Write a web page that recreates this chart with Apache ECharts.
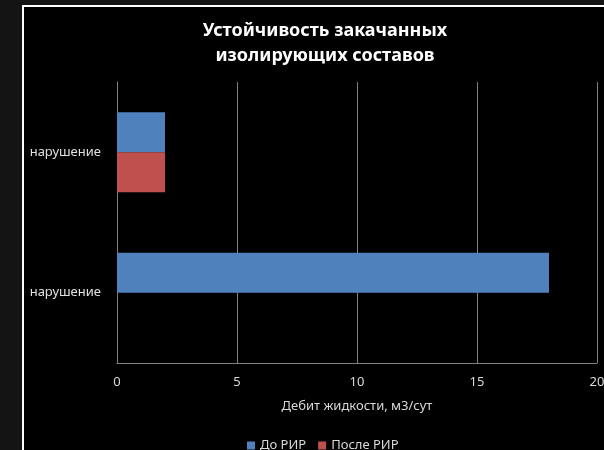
<!DOCTYPE html>
<html>
<head>
<meta charset="utf-8">
<script src="https://cdn.jsdelivr.net/npm/echarts@6/dist/echarts.min.js"></script>
<style>html,body{margin:0;padding:0;background:#141414;}#c{width:604px;height:450px;}</style>
</head>
<body>
<div id="c"></div>
<script>
var categories = ['нарушение', 'нарушение'];
var seriesNames = ['До РИР', 'После РИР'];
var beforeValues = [18, 2];
var afterValues = [0, 2];
var xTicks = [0, 5, 10, 15, 20];

var chart = echarts.init(document.getElementById('c'));
var FONT = '"Noto Sans", "Open Sans", sans-serif';
chart.setOption({
  backgroundColor: '#141414',
  animation: false,
  graphic: [
    {type: 'rect', z: -10, shape: {x: 23, y: 6, width: 600, height: 460},
     style: {fill: '#000', stroke: '#ffffff', lineWidth: 2}}
  ],
  title: {
    text: 'Устойчивость закачанных\nизолирующих составов',
    left: 320, top: 13, textAlign: 'center',
    textStyle: {color: '#ffffff', fontFamily: FONT, fontWeight: 'bold', fontSize: 18, lineHeight: 25}
  },
  legend: {
    data: seriesNames,
    top: 434, left: 242,
    itemWidth: 8, itemHeight: 8, itemGap: 12,
    icon: 'rect',
    textStyle: {color: '#d9d9d9', fontFamily: FONT, fontSize: 13}
  },
  grid: {left: 117, right: 7, top: 82, bottom: 87, outerBoundsMode: 'none', containLabel: false},
  xAxis: {
    type: 'value', min: xTicks[0], max: xTicks[xTicks.length - 1], interval: 5,
    name: 'Дебит жидкости, м3/сут', nameLocation: 'middle', nameGap: 37,
    nameTextStyle: {color: '#d9d9d9', fontFamily: FONT, fontSize: 13},
    axisLine: {show: true, lineStyle: {color: '#808080'}},
    axisTick: {show: false},
    axisLabel: {color: '#d9d9d9', fontFamily: FONT, fontSize: 13, margin: 13},
    splitLine: {show: true, lineStyle: {color: '#808080', width: 1}}
  },
  yAxis: {
    type: 'category', data: categories,
    axisLine: {show: true, lineStyle: {color: '#808080'}},
    axisTick: {show: false},
    axisLabel: {color: '#e0e0e0', fontFamily: FONT, fontSize: 13, margin: 16}
  },
  series: [
    {name: seriesNames[0], type: 'bar', data: beforeValues, barWidth: 40, barGap: '0%',
     itemStyle: {color: '#4f81bd'}},
    {name: seriesNames[1], type: 'bar', data: afterValues, barWidth: 40, barGap: '0%',
     itemStyle: {color: '#c0504d'}}
  ]
});
</script>
</body>
</html>
